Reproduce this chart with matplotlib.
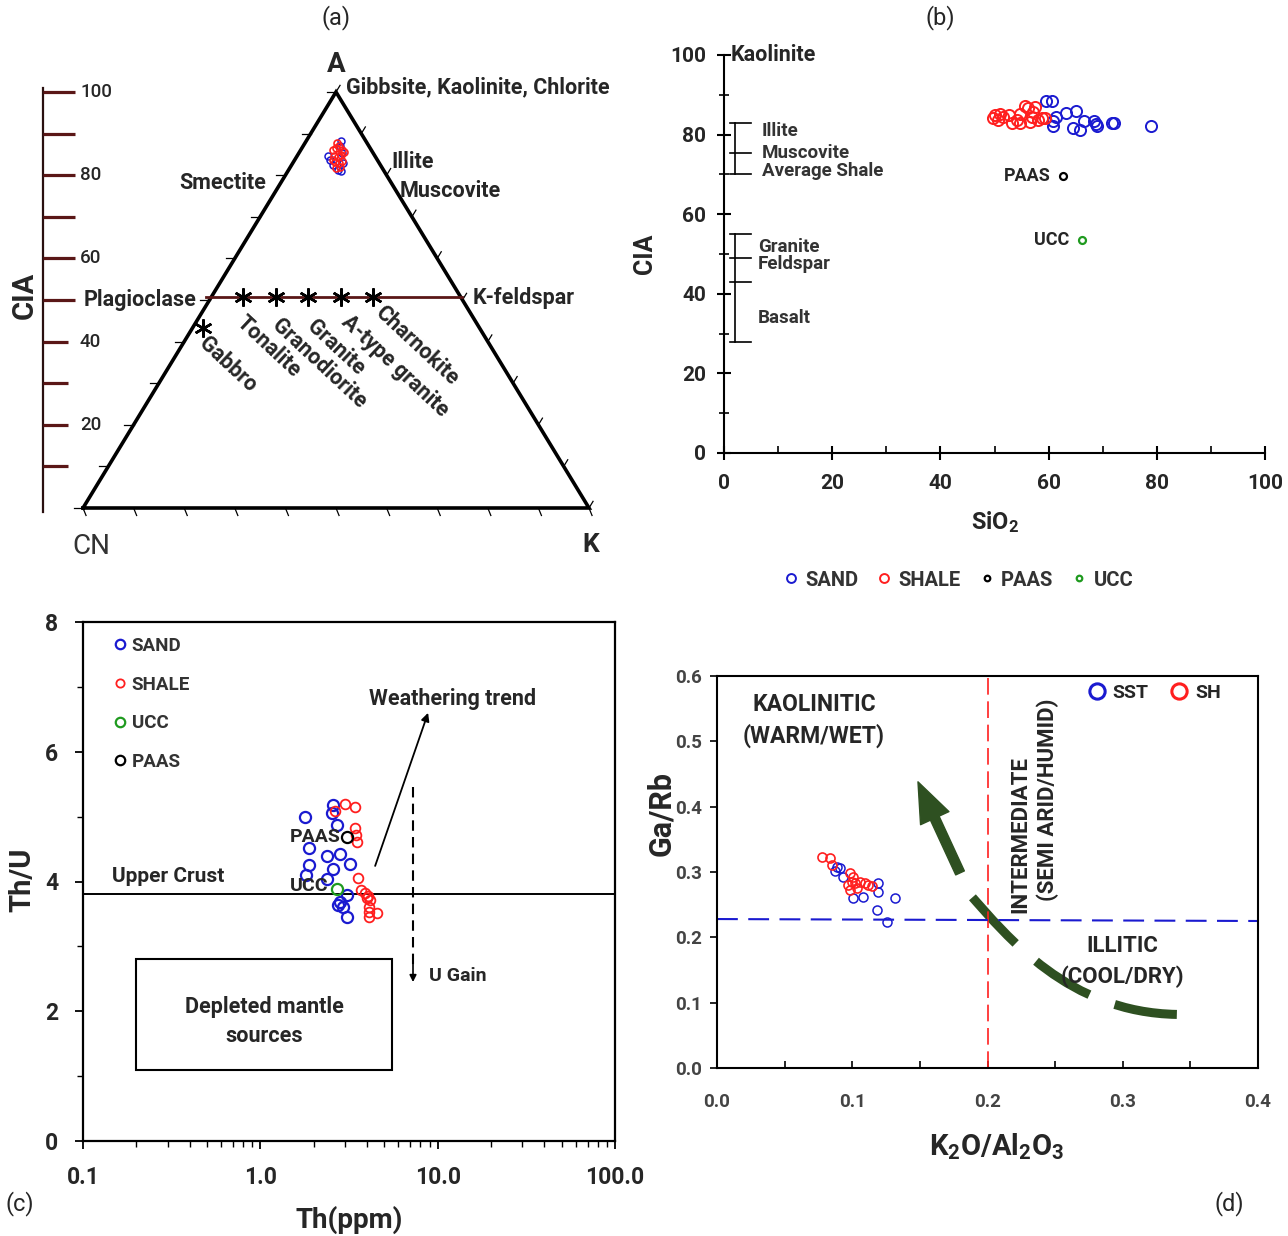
import numpy as np
import matplotlib
matplotlib.use('Agg')
import matplotlib.pyplot as plt
from matplotlib.path import Path
from matplotlib.patches import PathPatch, Rectangle
from matplotlib.lines import Line2D
from matplotlib.ticker import NullFormatter

plt.rcParams['font.family'] = ['Roboto', 'DejaVu Sans']
plt.rcParams['font.weight'] = 'bold'
plt.rcParams['mathtext.fontset'] = 'custom'
plt.rcParams['mathtext.rm'] = 'Roboto:bold'
plt.rcParams['mathtext.default'] = 'rm'

# ---------------- data ----------------
# (a) A-CN-K ternary (A = CIA, K in %)
tern_sand_A = [88.3, 86.9, 85.3, 83.7, 82.5, 81.3, 81.1, 82.9, 84.5]
tern_sand_K = [6.9, 7.3, 8.6, 6.9, 8.2, 9.8, 10.5, 9.9, 6.2]
tern_shale_A = [86.1, 86.5, 87.0, 86.1, 84.6, 84.4, 84.9, 83.2, 82.9, 83.4, 81.7, 82.0, 85.6, 87.7, 83.7]
tern_shale_K = [6.3, 6.7, 7.1, 8.1, 7.3, 8.2, 8.5, 8.2, 9.1, 9.5, 9.1, 9.8, 8.8, 6.3, 7.5]
rock_names = ['Gabbro', 'Tonalite', 'Granodiorite', 'Granite', 'A-type granite', 'Charnokite']
rock_A = [43.3, 50.7, 50.7, 50.7, 50.7, 50.7]
rock_K = [2.0, 6.2, 12.7, 19.1, 25.6, 31.9]
cia_scale_ticks = [10, 20, 30, 40, 50, 60, 70, 80, 90, 100]
cia_scale_labels = [20, 40, 60, 80, 100]

# (b) SiO2 vs CIA
sand_sio2 = [59.5, 60.6, 60.8, 61.4, 60.9, 63.2, 65.0, 64.6, 65.8, 66.5, 68.4, 68.8, 69.0, 71.8, 72.1, 78.9]
sand_cia = [88.5, 88.5, 83.5, 84.3, 82.1, 85.4, 86.0, 81.6, 81.2, 83.3, 83.4, 82.6, 82.2, 82.8, 83.0, 82.2]
shale_sio2 = [50.1, 51.0, 51.6, 52.6, 53.2, 54.1, 54.7, 55.6, 56.2, 56.9, 57.2, 57.5, 58.1, 58.7, 59.3,
              54.7, 50.7, 49.8, 56.6]
shale_cia = [84.9, 85.3, 84.5, 84.9, 82.8, 83.7, 85.3, 87.2, 86.6, 84.5, 85.8, 87.0, 83.7, 84.1, 84.1,
             82.8, 83.7, 84.1, 83.2]
paas_sio2, paas_cia = 62.7, 69.6
ucc_sio2, ucc_cia = 66.2, 53.5
bracket1_levels = [83, 75.5, 70]
bracket1_names = ['Illite', 'Muscovite', 'Average Shale']
bracket1_text_y = [80.9, 75.4, 70.9]
bracket2_levels = [55, 49, 43, 28]
bracket2_names = ['Granite', 'Feldspar', 'Basalt']
bracket2_text_y = [51.8, 47.5, 33.9]

# (c) Th vs Th/U
sand_th = [2.58, 2.53, 1.79, 2.70, 1.89, 2.37, 2.82, 3.21, 2.58, 1.89, 1.81, 2.39, 3.10, 2.82, 2.75, 2.94, 3.07]
sand_thu = [5.18, 5.05, 4.99, 4.87, 4.51, 4.39, 4.42, 4.27, 4.20, 4.25, 4.10, 4.04, 3.79, 3.69, 3.64, 3.61, 3.45]
shale_th = [2.64, 3.01, 3.42, 3.42, 3.47, 3.53, 3.57, 3.68, 3.90, 4.07, 4.16, 3.98, 4.11, 4.11, 4.53, 4.10]
shale_thu = [5.08, 5.19, 5.15, 4.82, 4.72, 4.61, 4.05, 3.87, 3.82, 3.77, 3.72, 3.74, 3.61, 3.53, 3.51, 3.45]
paas_th, paas_thu = 3.07, 4.68
ucc_th, ucc_thu = 2.70, 3.89
upper_crust_thu = 3.8

# (d) K2O/Al2O3 vs Ga/Rb
sst_k = [0.0885, 0.091, 0.0872, 0.0934, 0.1193, 0.1193, 0.1008, 0.1082, 0.1316, 0.1185, 0.1259]
sst_garb = [0.308, 0.306, 0.301, 0.293, 0.283, 0.270, 0.260, 0.262, 0.260, 0.242, 0.224]
sh_k = [0.0774, 0.0836, 0.0848, 0.0983, 0.1008, 0.0996, 0.102, 0.1057, 0.1094, 0.1119, 0.1144,
        0.0983, 0.1033, 0.0971]
sh_garb = [0.3236, 0.321, 0.311, 0.298, 0.293, 0.285, 0.283, 0.285, 0.283, 0.280, 0.278,
           0.273, 0.275, 0.280]
k_limit = 0.2
garb_limit = [0.228, 0.225]
trend_curve = [(0.340, 0.082), (0.26, 0.085), (0.215, 0.20), (0.186, 0.268)]
trend_arrow = [(0.1797, 0.2986), (0.1486, 0.438)]

BLUE = '#1a1ad0'
RED = '#ff1f1f'
GREEN = '#1f9a1f'
BROWN = '#5a1717'
DKGREEN = '#2e5021'
TXT = '#262626'

W, H = 1288, 1236
fig = plt.figure(figsize=(W / 100, H / 100), dpi=100)


def fig_box(x0, y0, x1, y1):
    return [x0 / W, 1 - y1 / H, (x1 - x0) / W, (y1 - y0) / H]


def ftext(x, y, s, **kw):
    kw.setdefault('va', 'center')
    kw.setdefault('color', TXT)
    fig.text(x / W, 1 - y / H, s, **kw)


# ---------------- (a) ----------------
ax_a = fig.add_axes(fig_box(0, 30, 640, 590))
sx, sy = 5.06, 4.16
ax_a.set_xlim(-83 / sx, (640 - 83) / sx)
ax_a.set_ylim((508 - 590) / sy, (508 - 30) / sy)
ax_a.axis('off')


def tern_xy(A, K):
    A = np.asarray(A, float)
    return np.asarray(K, float) + A / 2, A


ax_a.plot([0, 100, 50, 0], [0, 0, 100, 0], color='k', lw=2.6, solid_joinstyle='miter')
for v in range(0, 101, 10):
    ax_a.plot([v / 2, v / 2 - 1.8], [v, v], color='k', lw=0.9)
    ax_a.plot([100 - v / 2, 100 - v / 2 + 0.8], [v, v + 1.6], color='k', lw=0.9)
    ax_a.plot([v, v + 0.6], [0, -1.8], color='k', lw=0.9)

# CIA scale on the left
xs = (43 - 83) / sx
ax_a.plot([xs, xs], [-1, 101], color='#2a1010', lw=1.6)
for v in cia_scale_ticks:
    ln = 32 if v >= 50 else 25
    ax_a.plot([xs, xs + ln / sx], [v, v], color=BROWN, lw=2.3, solid_capstyle='butt')
for v in cia_scale_labels:
    ax_a.text((80 - 83) / sx, v, str(v), fontsize=13.5, color=TXT, va='center',
              fontweight='medium')

# feldspar join and rock stars
ax_a.plot([24.4, 74.9], [50.7, 50.7], color=BROWN, lw=2.0)
rx, ry = tern_xy(rock_A, rock_K)
ax_a.plot(rx, ry, ls='none', marker=(6, 2, 0), ms=13, mec='k', mew=1.8)
rock_offsets = [(7, -5), (5, -14), (7, -17), (10, -18), (11, -14), (13, -4)]
for name, x, y, off in zip(rock_names, rx, ry, rock_offsets):
    ax_a.annotate(name, (x, y), xytext=off, textcoords='offset pixels', rotation=-43,
                  rotation_mode='anchor', ha='left', va='top', fontsize=15.5, color=TXT)

bx, by = tern_xy(tern_sand_A, tern_sand_K)
ax_a.plot(bx, by, ls='none', marker='o', ms=5, mfc='none', mec=BLUE, mew=1.1)
rx2, ry2 = tern_xy(tern_shale_A, tern_shale_K)
ax_a.plot(rx2, ry2, ls='none', marker='o', ms=5, mfc='none', mec=RED, mew=1.2)

ftext(336, 64, 'A', fontsize=20, ha='center')
ftext(91, 546, 'CN', fontsize=20, ha='center', color='#333333', fontweight='normal')
ftext(591, 545, 'K', fontsize=19, ha='center')
ftext(25, 295, 'CIA', fontsize=21, ha='center', rotation=90)
ftext(346, 87, 'Gibbsite, Kaolinite, Chlorite', fontsize=15.5)
ftext(391, 162, 'Illite', fontsize=15.5)
ftext(400, 191, 'Muscovite', fontsize=15.5)
ftext(266, 183, 'Smectite', fontsize=15.5, ha='right')
ftext(84, 300, 'Plagioclase', fontsize=15.5)
ftext(473, 298, 'K-feldspar', fontsize=15.5)

# ---------------- (b) ----------------
ax_b = fig.add_axes(fig_box(724, 55, 1265, 453))
ax_b.set_xlim(0, 100)
ax_b.set_ylim(0, 100)
for s in ['top', 'right']:
    ax_b.spines[s].set_visible(False)
for s in ['left', 'bottom']:
    ax_b.spines[s].set_linewidth(1.5)
ax_b.set_xticks(range(0, 101, 20))
ax_b.set_xticks(range(10, 100, 20), minor=True)
ax_b.set_yticks(range(0, 101, 20))
ax_b.set_yticks(range(10, 100, 20), minor=True)
ax_b.tick_params(which='major', direction='inout', length=10, width=1.5, labelsize=15,
                 labelcolor=TXT)
ax_b.tick_params(axis='x', which='major', pad=10)
ax_b.tick_params(axis='y', which='major', pad=8)
ax_b.tick_params(which='minor', direction='in', length=5, width=1.2)
ax_b.tick_params(axis='y', which='minor', direction='inout', length=7)

ax_b.plot([2, 2], [bracket1_levels[-1], bracket1_levels[0]], color='k', lw=1.2)
for lv in bracket1_levels:
    ax_b.plot([1.2, 5], [lv, lv], color='k', lw=1.2)
for name, y in zip(bracket1_names, bracket1_text_y):
    ax_b.text(7.0, y, name, fontsize=13.5, color='#333333', va='center')
ax_b.plot([2, 2], [bracket2_levels[-1], bracket2_levels[0]], color='k', lw=1.2)
for lv in bracket2_levels:
    ax_b.plot([1.2, 5], [lv, lv], color='k', lw=1.2)
for name, y in zip(bracket2_names, bracket2_text_y):
    ax_b.text(6.3, y, name, fontsize=13.5, color='#333333', va='center')
ax_b.text(1.3, 100, 'Kaolinite', fontsize=15.5, color=TXT, va='center')

ax_b.plot(sand_sio2, sand_cia, ls='none', marker='o', ms=8, mfc='none', mec=BLUE, mew=1.4,
          label='SAND')
ax_b.plot(shale_sio2, shale_cia, ls='none', marker='o', ms=8, mfc='none', mec=RED, mew=1.4,
          label='SHALE')
ax_b.plot([paas_sio2], [paas_cia], ls='none', marker='o', ms=5, mfc='none', mec='k', mew=1.6,
          label='PAAS')
ax_b.plot([ucc_sio2], [ucc_cia], ls='none', marker='o', ms=5, mfc='none', mec=GREEN, mew=1.6,
          label='UCC')
ax_b.annotate('PAAS', (paas_sio2, paas_cia), xytext=(-13, 0), textcoords='offset pixels',
              ha='right', va='center', fontsize=13, color=TXT)
ax_b.annotate('UCC', (ucc_sio2, ucc_cia), xytext=(-13, 0), textcoords='offset pixels',
              ha='right', va='center', fontsize=13, color=TXT)
leg_b = ax_b.legend(loc='center', bbox_to_anchor=(958 / W, 1 - 580 / H),
                    bbox_transform=fig.transFigure, ncol=4, frameon=False, fontsize=14.5,
                    handlelength=0.8, handletextpad=0.3, columnspacing=0.9, markerscale=0.8)
for t in leg_b.get_texts():
    t.set_color('#333333')
ftext(645, 254, 'CIA', fontsize=18, ha='center', rotation=90)
ftext(995, 522, 'SiO$_2$', fontsize=17, ha='center')

# ---------------- (c) ----------------
ax_c = fig.add_axes(fig_box(83, 622, 615, 1141))
ax_c.set_xscale('log')
ax_c.set_xlim(0.1, 100)
ax_c.set_ylim(0, 8)
for s in ax_c.spines.values():
    s.set_linewidth(1.6)
ax_c.set_xticks([0.1, 1, 10, 100], labels=['0.1', '1.0', '10.0', '100.0'])
ax_c.xaxis.set_minor_formatter(NullFormatter())
ax_c.set_yticks([0, 2, 4, 6, 8])
ax_c.set_yticks([1, 3, 5, 7], minor=True)
ax_c.tick_params(which='major', direction='out', length=6, width=1.3, labelsize=16.5,
                 labelcolor=TXT)
ax_c.tick_params(axis='x', which='major', pad=12)
ax_c.tick_params(axis='y', which='major', pad=12)
ax_c.tick_params(which='minor', direction='out', length=4, width=1.0)

ax_c.axhline(upper_crust_thu, color='k', lw=1.4)
ax_c.text(0.146, 4.07, 'Upper Crust', fontsize=15, color=TXT, va='center')
ax_c.add_patch(Rectangle((0.2, 1.1), 5.3, 1.7, fill=False, ec='k', lw=1.5))
ax_c.text(1.05, 2.06, 'Depleted mantle', fontsize=15.5, color=TXT, ha='center', va='center')
ax_c.text(1.05, 1.62, 'sources', fontsize=15.5, color=TXT, ha='center', va='center')
ax_c.annotate('', xy=(8.83, 6.6), xytext=(4.44, 4.24),
              arrowprops=dict(arrowstyle='-|>', color='k', lw=1.3, mutation_scale=12,
                              shrinkA=0, shrinkB=0))
ax_c.text(12.2, 6.81, 'Weathering trend', fontsize=15.5, color=TXT, ha='center', va='center')
ax_c.plot([7.26, 7.26], [5.45, 2.7], color='k', lw=1.5, ls=(0, (5, 3)))
ax_c.annotate('', xy=(7.26, 2.45), xytext=(7.26, 2.75),
              arrowprops=dict(arrowstyle='-|>', color='k', lw=1.2, mutation_scale=10,
                              shrinkA=0, shrinkB=0))
ax_c.text(8.92, 2.54, 'U Gain', fontsize=14, color=TXT, va='center')

ax_c.plot(sand_th, sand_thu, ls='none', marker='o', ms=8, mfc='none', mec=BLUE, mew=1.6,
          label='SAND')
ax_c.plot(shale_th, shale_thu, ls='none', marker='o', ms=7, mfc='none', mec=RED, mew=1.3,
          label='SHALE')
ax_c.plot([ucc_th], [ucc_thu], ls='none', marker='o', ms=8, mfc='none', mec=GREEN, mew=1.6,
          label='UCC')
ax_c.plot([paas_th], [paas_thu], ls='none', marker='o', ms=8, mfc='none', mec='k', mew=1.6,
          label='PAAS')
ax_c.annotate('PAAS', (paas_th, paas_thu), xytext=(-6, 0), textcoords='offset pixels',
              ha='right', va='center', fontsize=14, color=TXT)
ax_c.annotate('UCC', (ucc_th, ucc_thu), xytext=(-8, 3), textcoords='offset pixels',
              ha='right', va='center', fontsize=14, color=TXT)
leg_c = ax_c.legend(loc='upper left', bbox_to_anchor=(112 / W, 1 - 637 / H),
                    bbox_transform=fig.transFigure, frameon=False, fontsize=13.5,
                    handlelength=0.9, handletextpad=0.15, labelspacing=1.1, borderpad=0,
                    borderaxespad=0, markerscale=0.85)
for t in leg_c.get_texts():
    t.set_color('#333333')
ftext(22, 880, 'Th/U', fontsize=21, ha='center', rotation=90)
ftext(349, 1220, 'Th(ppm)', fontsize=20, ha='center')

# ---------------- (d) ----------------
ax_d = fig.add_axes(fig_box(717, 676, 1258, 1068))
ax_d.set_xlim(0, 0.4)
ax_d.set_ylim(0, 0.6)
for s in ax_d.spines.values():
    s.set_linewidth(1.5)
ax_d.set_xticks(np.arange(0, 0.41, 0.1), labels=['0.0', '0.1', '0.2', '0.3', '0.4'])
ax_d.set_xticks(np.arange(0.05, 0.4, 0.1), minor=True)
ax_d.set_yticks(np.arange(0, 0.61, 0.1), labels=['0.0', '0.1', '0.2', '0.3', '0.4', '0.5', '0.6'])
ax_d.tick_params(axis='x', which='both', direction='in', length=5, width=1.2, pad=18)
ax_d.tick_params(axis='y', which='major', direction='out', length=5, width=1.2, pad=6)
ax_d.tick_params(which='major', labelsize=13.5, labelcolor='#444444')

ax_d.plot([k_limit, k_limit], [0, 0.6], color=RED, lw=1.2, ls=(0, (10, 4)))
ax_d.plot([0, 0.4], garb_limit, color=BLUE, lw=1.5, ls=(0, (10, 5)))

curve = Path(trend_curve, [Path.MOVETO, Path.CURVE4, Path.CURVE4, Path.CURVE4])
ax_d.add_patch(PathPatch(curve, fill=False, ec=DKGREEN, lw=6.5, ls=(0, (7, 3)),
                         capstyle='butt'))
ax_d.annotate('', xy=trend_arrow[1], xytext=trend_arrow[0],
              arrowprops=dict(arrowstyle='simple,head_length=1.6,head_width=1.25,tail_width=0.38',
                              color=DKGREEN, mutation_scale=18, shrinkA=0, shrinkB=0))

ax_d.plot(sst_k, sst_garb, ls='none', marker='o', ms=6.5, mfc='none', mec=BLUE, mew=1.1)
ax_d.plot(sh_k, sh_garb, ls='none', marker='o', ms=6.5, mfc='none', mec=RED, mew=1.2)

ax_d.text(0.0717, 0.556, 'KAOLINITIC', fontsize=16.5, color=TXT, ha='center', va='center')
ax_d.text(0.0717, 0.509, '(WARM/WET)', fontsize=16.5, color=TXT, ha='center', va='center')
ax_d.text(0.224, 0.357, 'INTERMEDIATE', fontsize=16, color=TXT, ha='center', va='center',
          rotation=90)
ax_d.text(0.2447, 0.410, '(SEMI ARID/HUMID)', fontsize=16, color=TXT, ha='center',
          va='center', rotation=90)
ax_d.text(0.2994, 0.187, 'ILLITIC', fontsize=16, color=TXT, ha='center', va='center')
ax_d.text(0.2994, 0.139, '(COOL/DRY)', fontsize=16, color=TXT, ha='center', va='center')

h_sst = Line2D([], [], ls='none', marker='o', ms=11, mfc='none', mec=BLUE, mew=2.2)
h_sh = Line2D([], [], ls='none', marker='o', ms=11, mfc='none', mec=RED, mew=2.2)
leg_d = ax_d.legend([h_sst, h_sh], ['SST', 'SH'], loc='upper left',
                    bbox_to_anchor=(1087 / W, 1 - 684 / H), bbox_transform=fig.transFigure,
                    ncol=2, frameon=False, fontsize=14, handlelength=1.0, handletextpad=0.3,
                    columnspacing=1.1, borderpad=0, borderaxespad=0)
for t in leg_d.get_texts():
    t.set_color(TXT)
ftext(661, 813, 'Ga/Rb', fontsize=22, ha='center', rotation=90)
ftext(997, 1147, 'K$_2$O/Al$_2$O$_3$', fontsize=21, ha='center')

# panel letters
ftext(336, 18, '(a)', fontsize=17, ha='center', fontweight='normal')
ftext(940, 18, '(b)', fontsize=17, ha='center', fontweight='normal')
ftext(20, 1204, '(c)', fontsize=17, ha='center', fontweight='normal')
ftext(1229, 1204, '(d)', fontsize=17, ha='center', fontweight='normal')

fig.savefig('out.png', dpi=100)
